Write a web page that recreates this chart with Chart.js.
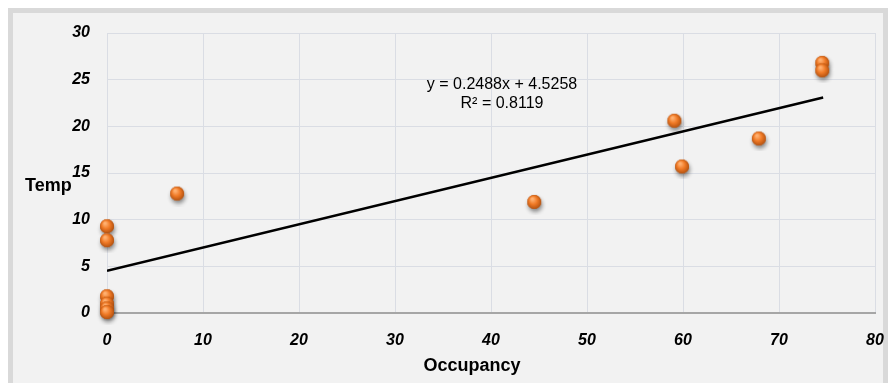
<!DOCTYPE html>
<html>
<head>
<meta charset="utf-8">
<script src="https://cdn.jsdelivr.net/npm/chart.js@4"></script>
<style>
  html, body { margin: 0; padding: 0; background: #ffffff; }
  #frame {
    position: absolute; left: 8px; top: 8px; width: 880px; height: 400px;
    box-sizing: border-box; background: #f2f2f2; border: 5px solid #d9d9d9;
  }
  #wrap { position: absolute; left: 0; top: 0; width: 888px; height: 383px; }
</style>
</head>
<body>
<div id="frame"></div>
<div id="wrap"><canvas id="chart1" width="888" height="383"></canvas></div>
<script>
// data
var occupancy = [0, 0, 0, 0, 0, 0, 7.3, 44.5, 59.1, 59.9, 67.9, 74.5, 74.5];
var temp = [9.3, 7.8, 1.8, 1.0, 0.5, 0.1, 12.8, 11.9, 20.6, 15.7, 18.7, 26.8, 26.0];

// linear trendline end points (y = 0.2488x + 4.5258)
var trendX = [0, 74.6];
var trendY = [4.53, 23.09];

var xTicks = [0, 10, 20, 30, 40, 50, 60, 70, 80];
var yTicks = [0, 5, 10, 15, 20, 25, 30];
var eqLines = ["y = 0.2488x + 4.5258", "R² = 0.8119"];

var tickFont = { family: "'Liberation Sans', Arial, sans-serif", size: 16, weight: 'bold', style: 'italic' };

// orange sphere marker with a soft shadow
function makeBall() {
  var c = document.createElement('canvas');
  c.width = 26; c.height = 26;
  var g = c.getContext('2d');
  g.save();
  g.shadowColor = 'rgba(0,0,0,0.45)';
  g.shadowBlur = 4;
  g.shadowOffsetX = 1;
  g.shadowOffsetY = 3;
  g.fillStyle = '#b9530e';
  g.beginPath(); g.arc(13, 13, 7, 0, Math.PI * 2); g.fill();
  g.restore();
  var grad = g.createRadialGradient(11, 10, 1, 13, 13, 8);
  grad.addColorStop(0, '#ffb070');
  grad.addColorStop(0.45, '#f07a26');
  grad.addColorStop(1, '#a84a0c');
  g.fillStyle = grad;
  g.beginPath(); g.arc(13, 13, 7, 0, Math.PI * 2); g.fill();
  return c;
}
var ball = makeBall();

var points = occupancy.map(function (x, i) { return { x: x, y: temp[i] }; });
var trend = trendX.map(function (x, i) { return { x: x, y: trendY[i] }; });

// axis titles and trendline label
var labelsPlugin = {
  id: 'labels',
  afterDraw: function (chart) {
    var ctx = chart.ctx;
    var xs = chart.scales.x, ys = chart.scales.y;
    ctx.save();
    ctx.fillStyle = '#000';
    ctx.textBaseline = 'middle';
    ctx.textAlign = 'left';
    ctx.font = "bold 18px 'Liberation Sans', Arial, sans-serif";
    ctx.fillText('Temp', 25, 186);
    ctx.textAlign = 'center';
    ctx.fillText('Occupancy', 472, 366);
    ctx.font = "16px 'Liberation Sans', Arial, sans-serif";
    ctx.fillText(eqLines[0], 502, 85);
    ctx.fillText(eqLines[1], 502, 104);
    ctx.restore();
  }
};

new Chart(document.getElementById('chart1'), {
  type: 'scatter',
  data: {
    datasets: [{
      label: 'Temp',
      data: points,
      pointStyle: ball,
      pointRadius: 7,
      clip: false,
      order: 1
    }, {
      label: 'Trend',
      type: 'line',
      data: trend,
      borderColor: '#000',
      borderWidth: 2.5,
      pointRadius: 0,
      fill: false,
      order: 2
    }]
  },
  options: {
    responsive: false,
    animation: false,
    events: [],
    layout: { padding: { left: 0, top: 33, right: 13, bottom: 0 } },
    plugins: { legend: { display: false }, tooltip: { enabled: false } },
    scales: {
      x: {
        type: 'linear', min: 0, max: 80,
        afterBuildTicks: function (s) { s.ticks = xTicks.map(function (v) { return { value: v }; }); },
        afterFit: function (s) { s.height = 70; s.paddingLeft = 0; s.paddingRight = 0; },
        grid: { color: '#dadde4', drawTicks: false },
        border: { color: '#a6a6a6', width: 2 },
        ticks: { color: '#000', font: tickFont, padding: 18, maxRotation: 0 }
      },
      y: {
        type: 'linear', min: 0, max: 30,
        afterBuildTicks: function (s) { s.ticks = yTicks.map(function (v) { return { value: v }; }); },
        afterFit: function (s) { s.width = 107; s.paddingTop = 0; s.paddingBottom = 0; },
        grid: { color: '#dadde4', drawTicks: false },
        border: { display: false },
        ticks: { color: '#000', font: tickFont, padding: 17 }
      }
    }
  },
  plugins: [labelsPlugin]
});
</script>
</body>
</html>
